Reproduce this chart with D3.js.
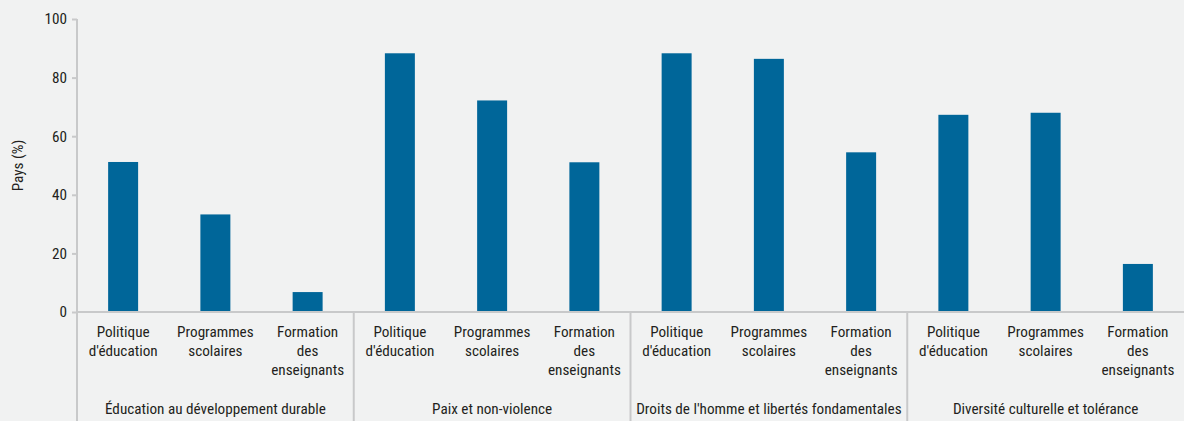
<!DOCTYPE html>
<html>
<head>
<meta charset="utf-8">
<script src="https://cdn.jsdelivr.net/npm/d3@7"></script>
<style>
  html, body { margin: 0; padding: 0; background: #f1f2f2; }
  svg { display: block; }
  text { font-family: "Roboto Condensed", "DejaVu Sans Condensed", sans-serif; fill: #231f20; }
</style>
</head>
<body>
<svg id="chart" width="1184" height="421"></svg>
<script>
// Themes and the three policy instruments within each theme
const themes = [
  "Éducation au développement durable",
  "Paix et non-violence",
  "Droits de l'homme et libertés fondamentales",
  "Diversité culturelle et tolérance"
];
const instruments = [
  ["Politique", "d'éducation"],
  ["Programmes", "scolaires"],
  ["Formation", "des", "enseignants"]
];
// Share of countries (%) for each theme, in instrument order
const valuesDurable   = [51.2, 33.3, 6.8];
const valuesPaix      = [88.3, 72.2, 51.1];
const valuesDroits    = [88.3, 86.4, 54.5];
const valuesDiversite = [67.3, 68.0, 16.4];
const yTicks = [0, 20, 40, 60, 80, 100];

const seriesByTheme = [valuesDurable, valuesPaix, valuesDroits, valuesDiversite];
const rows = [];
themes.forEach((t, ti) => {
  instruments.forEach((ins, ii) => {
    rows.push({ key: ti + "-" + ii, theme: t, ti, label: ins, value: seriesByTheme[ti][ii] });
  });
});

const W = 1184, H = 421;
const mLeft = 77, mRight = 1184, mTop = 19, mBottom = 312;
const fontSize = "15.2px";
const svg = d3.select("#chart");

const x = d3.scaleBand().domain(rows.map(d => d.key)).range([mLeft, mRight]).paddingInner(0.675).paddingOuter(0.3375);
const y = d3.scaleLinear().domain([0, 100]).range([mBottom, mTop]);

const axisColor = "#c8c9ca";

// Bars
svg.append("g").selectAll("rect").data(rows).join("rect")
  .attr("x", d => x(d.key))
  .attr("width", x.bandwidth())
  .attr("y", d => y(d.value))
  .attr("height", d => y(0) - y(d.value))
  .attr("fill", "#006699");

// Y axis
const yAxis = svg.append("g").attr("transform", `translate(${mLeft},0)`)
  .call(d3.axisLeft(y).tickValues(yTicks).tickSize(5).tickPadding(5));
yAxis.select(".domain").remove();
yAxis.selectAll(".tick line").attr("stroke", axisColor).attr("stroke-width", 2);
yAxis.selectAll(".tick text").style("font-size", fontSize).style("font-family", null).attr("fill", "#231f20");
yAxis.attr("font-family", null).attr("font-size", null);
svg.append("line").attr("x1", mLeft).attr("x2", mLeft).attr("y1", mTop).attr("y2", H)
  .attr("stroke", axisColor).attr("stroke-width", 2);

// Baseline
svg.append("line").attr("x1", mLeft).attr("x2", W).attr("y1", y(0)).attr("y2", y(0))
  .attr("stroke", axisColor).attr("stroke-width", 2);

// Theme separators
const step = x.step();
themes.forEach((t, ti) => {
  if (ti > 0) {
    const sx = x(ti + "-0") - (step - x.bandwidth()) / 2;
    svg.append("line").attr("x1", sx).attr("x2", sx).attr("y1", y(0)).attr("y2", H)
      .attr("stroke", axisColor).attr("stroke-width", 2);
  }
});

// Instrument labels
const lbl = svg.append("g").selectAll("text").data(rows).join("text")
  .attr("text-anchor", "middle")
  .style("font-size", fontSize)
  .attr("x", d => x(d.key) + x.bandwidth() / 2)
  .attr("y", 337);
lbl.selectAll("tspan").data(d => d.label.map(s => ({ s, cx: x(d.key) + x.bandwidth() / 2 }))).join("tspan")
  .attr("x", d => d.cx)
  .attr("dy", (d, i) => i === 0 ? 0 : 19)
  .text(d => d.s);

// Theme labels
svg.append("g").selectAll("text").data(themes).join("text")
  .attr("text-anchor", "middle")
  .style("font-size", fontSize)
  .attr("x", (t, ti) => x(ti + "-1") + x.bandwidth() / 2)
  .attr("y", 414)
  .text(t => t);

// Y axis title
svg.append("text")
  .attr("transform", `translate(23,${(mTop + mBottom) / 2}) rotate(-90)`)
  .attr("text-anchor", "middle")
  .style("font-size", fontSize)
  .text("Pays (%)");
</script>
</body>
</html>
